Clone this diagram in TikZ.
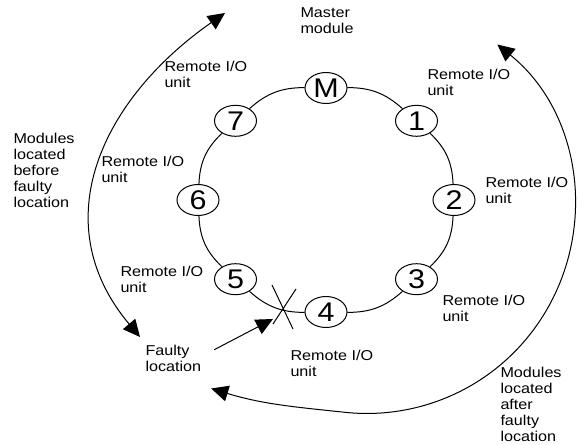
\documentclass[tikz,border=0pt]{standalone}
\usepackage{fontspec}
\setmainfont{Liberation Sans}[FakeStretch=1.13]
\usetikzlibrary{arrows.meta,shapes.geometric,calc}

\begin{document}
\begin{tikzpicture}[x=1pt,y=1pt,line width=1pt,
  unit/.style={ellipse,draw,fill=white,inner sep=0pt,minimum width=42pt,minimum height=31pt,font=\fontsize{27}{27}\selectfont},
  lbl/.style={align=left,inner sep=0pt,anchor=north west,font=\fontsize{14.3}{16}\selectfont},
  arr/.style={-{Triangle[length=17pt,width=16pt]}},
  twoway/.style={{Triangle[length=17pt,width=16pt]}-{Triangle[length=17pt,width=16pt]}}]
\useasboundingbox (0,0) rectangle (582,445);
% ring of units
\node[unit] (m) at (326,357) {M};
\node[unit] (u1) at (416.5,324.2) {1};
\node[unit] (u2) at (454,245) {2};
\node[unit] (u3) at (416.5,165.8) {3};
\node[unit] (u4) at (326,133) {4};
\node[unit] (u5) at (235.5,165.8) {5};
\node[unit] (u6) at (198,245) {6};
\node[unit] (u7) at (235.5,324.2) {7};
\draw (m) to[bend left=21] (u1); \draw (u1) to[bend left=22] (u2);
\draw (u2) to[bend left=22] (u3); \draw (u3) to[bend left=21] (u4);
\draw (u4) to[bend left=21] (u5); \draw (u5) to[bend left=22] (u6);
\draw (u6) to[bend left=22] (u7); \draw (u7) to[bend left=21] (m);
% labels
\node[lbl] (master) at (300,438) {Master\\module};
\node[lbl] (r1) at (427,376) {Remote I/O\\unit};
\node[lbl] (r2) at (485,268) {Remote I/O\\unit};
\node[lbl] (r3) at (442,150) {Remote I/O\\unit};
\node[lbl] (r4) at (290,95) {Remote I/O\\unit};
\node[lbl] (r5) at (120,179) {Remote I/O\\unit};
\node[lbl] (r6) at (101,289) {Remote I/O\\unit};
\node[lbl] (r7) at (164,384) {Remote I/O\\unit};
\node[lbl] (before) at (13,312) {Modules\\located\\before\\faulty\\location};
\node[lbl] (after) at (500,78) {Modules\\located\\after\\faulty\\location};
\node[lbl,inner sep=4pt] (faulty) at (141,104) {Faulty\\location};
% break in the ring
\coordinate (fault) at (283,139);
\draw (fault) +(-11,21) -- +(10,-23);
\draw (fault) +(13,17) -- +(-10,-18);
\draw[arr] ([shift={(8.5pt,9pt)}]faulty.east) -- ([shift={(-10pt,-13pt)}]fault);
% sweeps before and after the fault
\coordinate (ltop) at (225,432);
\coordinate (rtop) at (497.3,400.5);
\draw[twoway] (ltop) .. controls (102,346) and (43.5,223) .. ([shift={(-1pt,4pt)}]faulty.north west);
\draw[twoway] (rtop) arc[start angle=51.1,end angle=-96,radius=207.5pt]
  to[out=174,in=-17] ([shift={(5.5pt,-12pt)}]faulty.south east);
\end{tikzpicture}
\end{document}
